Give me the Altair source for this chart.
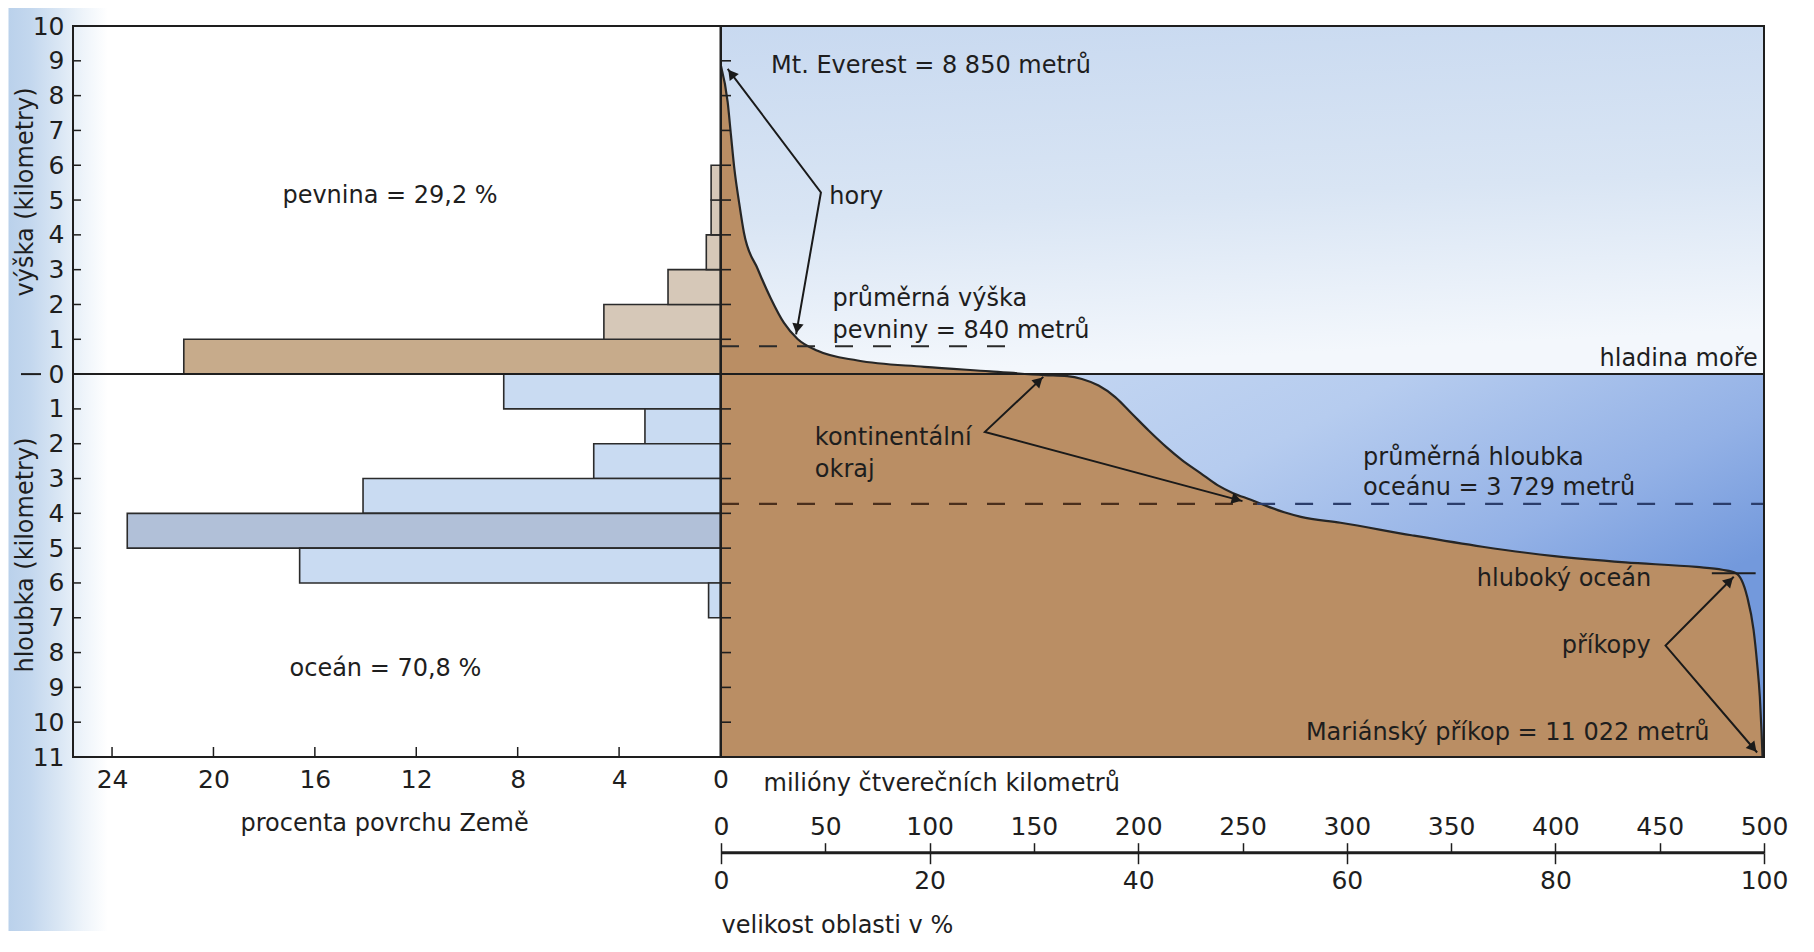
import math
import altair as alt
import pandas as pd

# ---------------- data ----------------
curve_area = [0, 3.2, 4.8, 6.4, 8.7, 11, 17.6, 24, 30.2, 36.7, 46.3, 65.5, 97.4, 129,
              155, 166, 173, 181, 189, 197, 205, 213.4, 221, 230, 238, 245.5, 254, 262,
              270, 278, 297, 331, 365, 399.5, 433.5, 467.6, 480, 486.6, 491.9, 495,
              496.7, 498, 498.8, 499.3]
curve_elev = [8.85, 7.81, 6.85, 5.9, 4.92, 4.06, 3.02, 2.16, 1.47, 1.01, 0.67, 0.39, 0.21, 0.08,
              -0.03, -0.06, -0.14, -0.33, -0.66, -1.14, -1.62, -2.09, -2.47, -2.85, -3.19, -3.42,
              -3.61, -3.8, -3.97, -4.1, -4.27, -4.63, -4.96, -5.23, -5.41, -5.54, -5.62, -5.72,
              -6.39, -7.35, -8.31, -9.27, -10.23, -11.0]

land_lo = [0, 1, 2, 3, 4, 5]
land_hi = [1, 2, 3, 4, 5, 6]
land_pct = [21.17, 4.6, 2.07, 0.56, 0.37, 0.37]
ocean_lo = [-1, -2, -3, -4, -5, -6, -7]
ocean_hi = [0, -1, -2, -3, -4, -5, -6]
ocean_pct = [8.55, 2.98, 5.0, 14.1, 23.4, 16.6, 0.47]

mean_elev = 0.8
mean_depth = -3.729

y_ticks = list(range(-11, 11))
pct_ticks = [24, 20, 16, 12, 8, 4, 0]
area_ticks = [0, 50, 100, 150, 200, 250, 300, 350, 400, 450, 500]
share_ticks = [0, 100, 200, 300, 400, 500]   # = 0, 20, 40, 60, 80, 100 % of the area

left_texts = ["pevnina = 29,2 %", "oceán = 70,8 %"]
left_text_x = [17.28, 17.0]
left_text_y = [5.12, -8.47]

right_texts = ["Mt. Everest = 8 850 metrů", "hory", "průměrná výška", "pevniny = 840 metrů",
               "kontinentální", "okraj", "průměrná hloubka", "oceánu = 3 729 metrů",
               "hluboký oceán", "příkopy", "Mariánský příkop = 11 022 metrů"]
right_text_x = [24, 51.9, 53.5, 53.5, 45, 45, 307.8, 307.8, 362.3, 403, 280.4]
right_text_y = [8.86, 5.08, 2.15, 1.23, -1.83, -2.76, -2.41, -3.27, -5.9, -7.8, -10.3]
sea_label = "hladina moře"
sea_label_x = 497
sea_label_y = 0.42

arrow_names = ["hory", "okraj", "prikopy"]
arrow_pts = [[(3.2, 8.77), (47.9, 5.22), (36, 1.14)],
             [(154.5, -0.08), (126.5, -1.66), (250, -3.65)],
             [(485.5, -5.82), (452.8, -7.8), (496.7, -10.87)]]
deep_tick = (475, 496, -5.72)

# ---------------- styling / layout ----------------
FONT = "DejaVu Sans"
INK = "#1e1e1e"
H = 731
WL = 647.5
WR = 1043
PXX = WR / 500.0
PXY = H / 21.0
SCALE_Y = 826.7
BROWN = "#BA8E64"

one = pd.DataFrame({"a": [0]})

xL = alt.Scale(domain=[25.54, 0], nice=False, zero=False)
yS = alt.Scale(domain=[-11, 10], nice=False, zero=False)
xR = alt.Scale(domain=[0, 500], nice=False, zero=False)


def XL(f):
    return alt.X(f, scale=xL, axis=None)


def YL(f):
    return alt.Y(f, scale=yS, axis=None)


def XR(f):
    return alt.X(f, scale=xR, axis=None)


def YR(f):
    return alt.Y(f, scale=yS, axis=None)


def grad(colors, offsets, x1, y1, x2, y2):
    return alt.Gradient(
        gradient="linear",
        stops=[alt.GradientStop(color=c, offset=o) for c, o in zip(colors, offsets)],
        x1=x1, y1=y1, x2=x2, y2=y2)


# ---------------- left panel ----------------
bar_df = pd.DataFrame({
    "lo": land_lo + ocean_lo,
    "hi": land_hi + ocean_hi,
    "pct": land_pct + ocean_pct,
    "fill": ["#C7AB8B"] + ["#D6C8B8"] * 5 + ["#C9DBF2"] * 4 + ["#B1C0D8"] + ["#C9DBF2"] * 2,
    "zero": [0] * 13,
})

strip = alt.Chart(one).mark_rect(
    fill=grad(["#BAD1EB", "#C3D7EE", "#D9E6F4", "#EEF4FA", "#FFFFFF"],
              [0, 0.22, 0.5, 0.75, 1], 0, 0, 1, 0)
).encode(x=alt.value(-64.5), x2=alt.value(35), y=alt.value(-18), y2=alt.value(905))

bars = alt.Chart(bar_df).mark_rect(stroke="#2b2b2b", strokeWidth=1.6).encode(
    x=alt.X("pct:Q", scale=xL,
            axis=alt.Axis(orient="bottom", values=pct_ticks, ticks=True, tickSize=0,
                          domain=False, grid=False,
                          labelPadding=10, labelFontSize=25, labelColor=INK, zindex=2,
                          labelOverlap=False, labelFlush=False,
                          title="procenta povrchu Země", titleX=167, titleY=66,
                          titleAlign="left", titleBaseline="middle", titleAngle=0,
                          titleFontSize=24, titleFontWeight="normal", titleColor=INK)),
    x2="zero:Q",
    y=alt.Y("lo:Q", scale=yS,
            axis=alt.Axis(orient="left", values=y_ticks, labelExpr="abs(datum.value)",
                          ticks=True, tickSize=0, domain=False, grid=False, labelPadding=9,
                          labelOverlap=False, labelFlush=False,
                          labelFontSize=25, labelColor=INK, title=None, zindex=2)),
    y2="hi:Q",
    fill=alt.Fill("fill:N", scale=None),
)

zero_df = pd.DataFrame({"k": [0]})
sea_left = alt.Chart(zero_df).mark_rule(color=INK, strokeWidth=2).encode(y=YL("k:Q"))
sea_dash = alt.Chart(zero_df).mark_rule(color=INK, strokeWidth=2).encode(
    x=alt.value(-52), x2=alt.value(-32), y=YL("k:Q"))

ltick_df = pd.DataFrame({"k": [k for k in y_ticks if -11 < k < 10]})
left_yticks = alt.Chart(ltick_df).mark_rule(color=INK, strokeWidth=1.5).encode(
    x=alt.value(0), x2=alt.value(8), y=YL("k:Q"))

bt_df = pd.DataFrame({"p": [p for p in pct_ticks if p > 0]})
left_xticks = alt.Chart(bt_df).mark_rule(color=INK, strokeWidth=1.5).encode(
    x=XL("p:Q"), y=alt.value(H), y2=alt.value(H - 10))

ltxt_df = pd.DataFrame({"t": left_texts, "x": left_text_x, "y": left_text_y})
left_txt = alt.Chart(ltxt_df).mark_text(align="left", baseline="middle", fontSize=24,
                                         font=FONT, color=INK).encode(
    x=XL("x:Q"), y=YL("y:Q"), text="t:N")

ytitle1 = alt.Chart(pd.DataFrame({"t": ["výška (kilometry)"]})).mark_text(
    angle=270, fontSize=24, font=FONT, color=INK, baseline="middle", align="center").encode(
    x=alt.value(-47.5), y=alt.value(166), text="t:N")
ytitle2 = alt.Chart(pd.DataFrame({"t": ["hloubka (kilometry)"]})).mark_text(
    angle=270, fontSize=24, font=FONT, color=INK, baseline="middle", align="center").encode(
    x=alt.value(-47.5), y=alt.value(529), text="t:N")

lframe_df = pd.DataFrame({"x0": [25.54], "x1": [0], "y0": [-11], "y1": [10]})
left_frame = alt.Chart(lframe_df).mark_rect(fillOpacity=0, stroke=INK, strokeWidth=2).encode(
    x=XL("x0:Q"), x2="x1:Q", y=YL("y0:Q"), y2="y1:Q")

left = alt.layer(strip, bars, sea_left, sea_dash, left_yticks, left_xticks, left_txt,
                 ytitle1, ytitle2, left_frame).resolve_axis(
    x="independent", y="independent").properties(width=WL, height=H)

# ---------------- right panel ----------------
box_df = pd.DataFrame({"x0": [0], "x1": [500], "y0": [0], "y1": [10]})
box_df2 = pd.DataFrame({"x0": [0], "x1": [500], "y0": [-11], "y1": [0]})
box_df3 = pd.DataFrame({"x0": [0], "x1": [500], "y0": [-11], "y1": [10]})

sky = alt.Chart(box_df).mark_rect(
    fill=grad(["#C8D9F0", "#D9E5F4", "#F3F7FC"], [0, 0.55, 1], 0, 0, 0.15, 1)
).encode(
    x=alt.X("x0:Q", scale=xR,
            axis=alt.Axis(orient="top", offset=-SCALE_Y, values=area_ticks, tickSize=10,
                          tickWidth=1.5, tickColor=INK, labelPadding=3, domain=False,
                          grid=False, labelFontSize=25, labelColor=INK, zindex=2,
                          labelFlush=False, labelOverlap=False,
                          title="milióny čtverečních kilometrů", titleX=42,
                          titleY=-69.4, titleAlign="left", titleBaseline="middle",
                          titleAngle=0, titleFontSize=24, titleFontWeight="normal",
                          titleColor=INK)),
    x2="x1:Q", y=YR("y0:Q"), y2="y1:Q")
ocean = alt.Chart(box_df2).mark_rect(
    fill=grad(["#CADBF3", "#B6CCEF", "#93B1E6", "#7399DC"], [0, 0.45, 0.78, 1],
              0.1, 0, 0.9, 0.6)
).encode(x=XR("x0:Q"), x2="x1:Q", y=YR("y0:Q"), y2="y1:Q")

curve_df = pd.DataFrame({"area": curve_area, "elev": curve_elev,
                         "floor": [-11] * len(curve_area)})
land = alt.Chart(curve_df).mark_area(color=BROWN, interpolate="monotone", opacity=1).encode(
    x=XR("area:Q"), y=YR("elev:Q"), y2="floor:Q")
outline = alt.Chart(curve_df).mark_line(color="#262626", strokeWidth=2.2,
                                        interpolate="monotone").encode(
    x=XR("area:Q"), y=YR("elev:Q"))

sea_right = alt.Chart(zero_df).mark_rule(color=INK, strokeWidth=2).encode(y=YR("k:Q"))

dash_df = pd.DataFrame({"x0": [0, 0, 257], "x1": [140, 257, 500],
                        "y": [mean_elev, mean_depth, mean_depth],
                        "c": ["#2a2a2a", "#4a2f1c", "#2b3d6b"]})
dashes = alt.Chart(dash_df).mark_rule(strokeWidth=2.2, strokeDash=[18, 20]).encode(
    x=XR("x0:Q"), x2="x1:Q", y=YR("y:Q"), color=alt.Color("c:N", scale=None))

rtick_df = pd.DataFrame({"k": [k for k in y_ticks if -11 < k < 10 and k != 0]})
right_yticks = alt.Chart(rtick_df).mark_rule(color=INK, strokeWidth=1.6).encode(
    x=alt.value(0), x2=alt.value(10), y=YR("k:Q"))

deep_df = pd.DataFrame({"x0": [deep_tick[0]], "x1": [deep_tick[1]], "y": [deep_tick[2]]})
deep = alt.Chart(deep_df).mark_rule(color=INK, strokeWidth=2).encode(
    x=XR("x0:Q"), x2="x1:Q", y=YR("y:Q"))

line_rows = []
head_rows = []
for name, pts in zip(arrow_names, arrow_pts):
    for i, (px, py) in enumerate(pts):
        line_rows.append({"g": name, "o": i, "x": px, "y": py})
    vx, vy = pts[1]
    for tip in (pts[0], pts[2]):
        dx = (tip[0] - vx) * PXX
        dy = -(tip[1] - vy) * PXY
        L = math.hypot(dx, dy)
        ux, uy = dx / L, dy / L
        ang = math.degrees(math.atan2(ux, -uy)) % 360
        back = 6.0
        head_rows.append({"x": tip[0] - back * ux / PXX, "y": tip[1] + back * uy / PXY,
                          "a": ang})
arrow_line_df = pd.DataFrame(line_rows)
arrow_head_df = pd.DataFrame(head_rows)

arrow_lines = alt.Chart(arrow_line_df).mark_line(color="#1a1a1a", strokeWidth=2).encode(
    x=XR("x:Q"), y=YR("y:Q"), detail="g:N", order="o:Q")
arrow_heads = alt.Chart(arrow_head_df).mark_point(
    shape="triangle-up", filled=True, size=130, color="#1a1a1a", opacity=1).encode(
    x=XR("x:Q"), y=YR("y:Q"), angle=alt.Angle("a:Q", scale=None))

rtxt_df = pd.DataFrame({"t": right_texts, "x": right_text_x, "y": right_text_y})
right_txt = alt.Chart(rtxt_df).mark_text(align="left", baseline="middle", fontSize=24,
                                          font=FONT, color=INK).encode(
    x=XR("x:Q"), y=YR("y:Q"), text="t:N")
sea_df = pd.DataFrame({"t": [sea_label], "x": [sea_label_x], "y": [sea_label_y]})
sea_txt = alt.Chart(sea_df).mark_text(align="right", baseline="middle", fontSize=24,
                                       font=FONT, color=INK).encode(
    x=XR("x:Q"), y=YR("y:Q"), text="t:N")

right_frame = alt.Chart(box_df3).mark_rect(fillOpacity=0, stroke=INK, strokeWidth=2).encode(
    x=XR("x0:Q"), x2="x1:Q", y=YR("y0:Q"), y2="y1:Q")

scale_line = alt.Chart(box_df).mark_rule(color=INK, strokeWidth=3).encode(
    x=alt.X("x0:Q", scale=xR,
            axis=alt.Axis(orient="bottom", offset=SCALE_Y - H, values=share_ticks,
                          labelExpr="datum.value / 5", tickSize=11, tickWidth=1.5,
                          tickColor=INK, labelPadding=5, domain=False, grid=False,
                          labelFontSize=25, labelColor=INK, zindex=2,
                          labelFlush=False, labelOverlap=False,
                          title="velikost oblasti v %", titleX=0, titleY=73,
                          titleAlign="left", titleBaseline="middle", titleAngle=0,
                          titleFontSize=24, titleFontWeight="normal", titleColor=INK)),
    x2="x1:Q", y=alt.value(SCALE_Y))

right = alt.layer(sky, ocean, land, outline, sea_right, dashes, right_yticks, deep,
                  arrow_lines, arrow_heads, right_txt, sea_txt, right_frame, scale_line
                  ).resolve_axis(x="independent").properties(width=WR, height=H)

chart = alt.hconcat(left, right, spacing=0, bounds="flush").resolve_scale(
    x="independent", y="independent").properties(padding=0).configure_view(
    strokeWidth=0).configure_axis(labelFont=FONT, titleFont=FONT)

chart.save("out.html", embed_options={"renderer": "svg", "actions": False})
